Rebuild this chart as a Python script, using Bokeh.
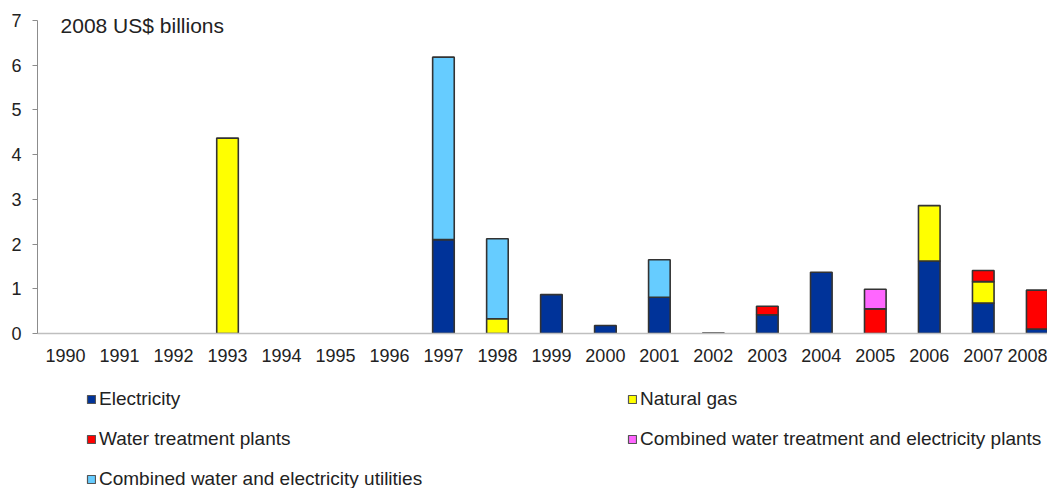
from bokeh.plotting import figure
from bokeh.models import ColumnDataSource, Range1d, FixedTicker, Legend, LegendItem, Label
from bokeh.layouts import column
from bokeh.embed import file_html
from bokeh.resources import INLINE

years = ["1990", "1991", "1992", "1993", "1994", "1995", "1996", "1997", "1998", "1999",
         "2000", "2001", "2002", "2003", "2004", "2005", "2006", "2007", "2008"]
electricity = [0, 0, 0, 0, 0, 0, 0, 2.10, 0, 0.87, 0.18, 0.81, 0.01, 0.42, 1.37, 0, 1.62, 0.68, 0.10]
natural_gas = [0, 0, 0, 4.37, 0, 0, 0, 0, 0.33, 0, 0, 0, 0, 0, 0, 0, 1.24, 0.48, 0]
water_treatment = [0, 0, 0, 0, 0, 0, 0, 0, 0, 0, 0, 0, 0, 0.19, 0, 0.55, 0, 0.25, 0.87]
combined_plants = [0, 0, 0, 0, 0, 0, 0, 0, 0, 0, 0, 0, 0, 0, 0, 0.44, 0, 0, 0]
combined_utilities = [0, 0, 0, 0, 0, 0, 0, 4.08, 1.79, 0, 0, 0.84, 0, 0, 0, 0, 0, 0, 0]

series_names = ["Electricity", "Natural gas", "Water treatment plants",
                "Combined water treatment and electricity plants",
                "Combined water and electricity utilities"]
series_values = [electricity, natural_gas, water_treatment, combined_plants, combined_utilities]
series_colors = ["#003399", "#FFFF00", "#FF0000", "#FF66FF", "#66CCFF"]

FONT = "Liberation Sans"
W = 1047
PX_PER_UNIT = 313 / 7.0

p = figure(width=W, height=369, output_backend="svg", toolbar_location=None,
           x_range=Range1d(-0.52, 18.19), y_range=Range1d(0, 323 / PX_PER_UNIT),
           min_border_left=37, min_border_right=0, min_border_top=10, min_border_bottom=36)
p.outline_line_color = None
p.grid.grid_line_color = None
p.background_fill_color = "white"

xs = list(range(len(years)))
bottoms = [0.0] * len(years)
sources = []
for name, vals, col in zip(series_names, series_values, series_colors):
    tops = [b + v for b, v in zip(bottoms, vals)]
    keep = [i for i, v in enumerate(vals) if v != 0]
    src = ColumnDataSource(dict(x=[xs[i] for i in keep],
                                bottom=[bottoms[i] for i in keep],
                                top=[tops[i] for i in keep]))
    sources.append(src)
    p.vbar(x="x", bottom="bottom", top="top", width=0.4, source=src,
           fill_color=col, line_color="#333333", line_width=1.6)
    bottoms = tops

# x axis
p.xaxis.ticker = FixedTicker(ticks=xs)
p.xaxis.major_label_overrides = {i: y for i, y in enumerate(years)}
p.xaxis.axis_line_color = "#BFBFBF"
p.xaxis.axis_line_width = 1.5
p.xaxis.major_tick_line_color = None
p.xaxis.major_tick_out = 0
p.xaxis.major_tick_in = 0
p.xaxis.minor_tick_line_color = None
p.xaxis.major_label_standoff = 15
p.xaxis.major_label_text_font = FONT
p.xaxis.major_label_text_font_size = "18px"
p.xaxis.major_label_text_color = "#222222"

# y axis
p.yaxis.ticker = FixedTicker(ticks=[0, 1, 2, 3, 4, 5, 6, 7])
p.yaxis.bounds = (0, 7)
p.yaxis.axis_line_color = "#8C8C8C"
p.yaxis.major_tick_line_color = "#8C8C8C"
p.yaxis.major_tick_out = 5
p.yaxis.major_tick_in = 0
p.yaxis.minor_tick_line_color = None
p.yaxis.major_label_standoff = 11
p.yaxis.major_label_text_font = FONT
p.yaxis.major_label_text_font_size = "18px"
p.yaxis.major_label_text_color = "#222222"

p.add_layout(Label(x=-0.093, y=6.89, text="2008 US$ billions", text_font=FONT,
                   text_font_size="21px", text_color="#222222", text_baseline="middle"))

# legend panel (separate figure below the chart, same series styles, hidden renderers)
lg = figure(width=W, height=119, output_backend="svg", toolbar_location=None,
            x_range=Range1d(-0.52, 18.19), y_range=Range1d(0, 7),
            x_axis_location=None, y_axis_location=None,
            min_border_left=0, min_border_right=0, min_border_top=0, min_border_bottom=0)
lg.outline_line_color = None
lg.grid.grid_line_color = None
lg_items = {}
for name, col, src in zip(series_names, series_colors, sources):
    r = lg.vbar(x="x", bottom="bottom", top="top", width=0.4, source=src,
                fill_color=col, line_color="#555555", line_width=1.2)
    r.visible = False
    lg_items[name] = LegendItem(label=name, renderers=[r])

# column-major fill: first column then second column
order = ["Electricity", "Water treatment plants", "Combined water and electricity utilities",
         "Natural gas", "Combined water treatment and electricity plants"]
legend = Legend(items=[lg_items[n] for n in order], ncols=2, location=(49, -2))
legend.glyph_width = 10
legend.glyph_height = 10
legend.label_standoff = 3
legend.label_width = 510
legend.label_height = 22
legend.spacing = 18
legend.padding = 0
legend.margin = 0
legend.border_line_alpha = 0
legend.background_fill_alpha = 0
legend.inactive_fill_alpha = 0
legend.label_text_font = FONT
legend.label_text_font_size = "19px"
legend.label_text_color = "#222222"
lg.add_layout(legend, "center")

layout = column(p, lg, spacing=0)
open("out.html", "w").write(file_html(layout, INLINE))
